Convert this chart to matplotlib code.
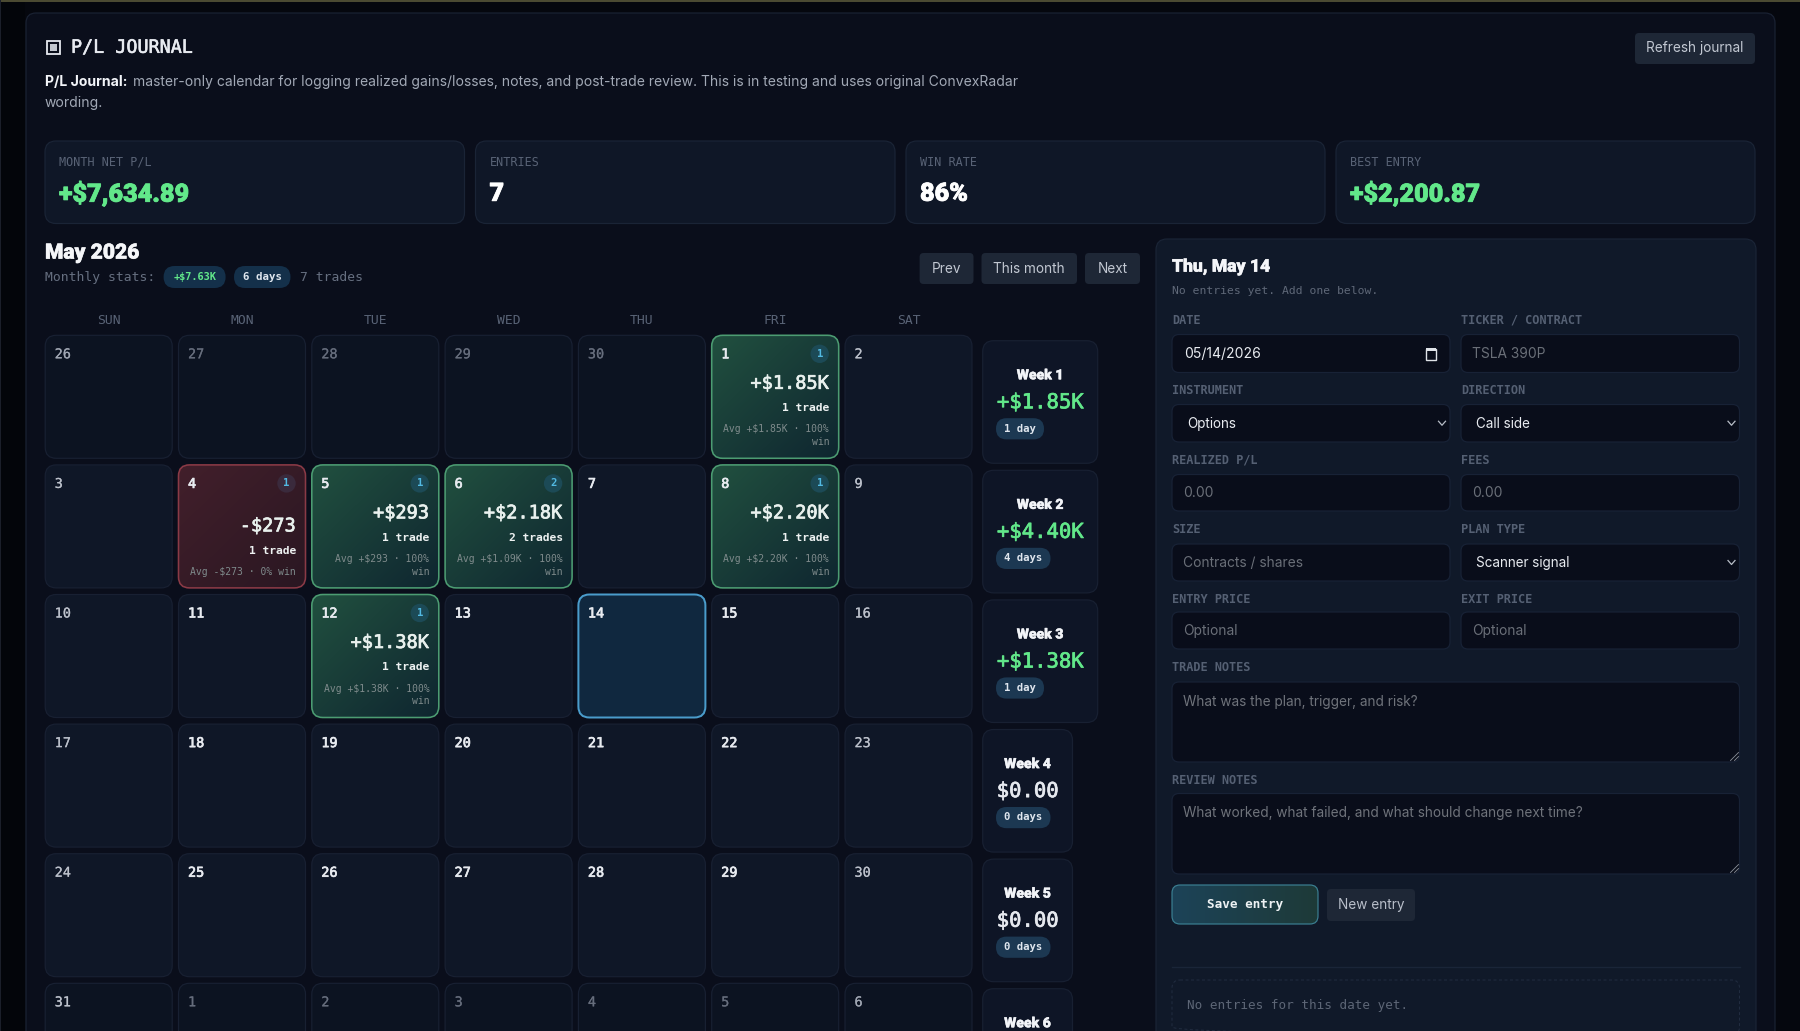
import numpy as np
import matplotlib
matplotlib.use("Agg")
import matplotlib.pyplot as plt
import matplotlib.patheffects as pe
from matplotlib.patches import FancyBboxPatch, Rectangle, Circle
from matplotlib.colors import to_rgb

# ---------- data ----------
WEEKDAYS = ["SUN", "MON", "TUE", "WED", "THU", "FRI", "SAT"]
WEEKS = [
    [26, 27, 28, 29, 30, 1, 2],
    [3, 4, 5, 6, 7, 8, 9],
    [10, 11, 12, 13, 14, 15, 16],
    [17, 18, 19, 20, 21, 22, 23],
    [24, 25, 26, 27, 28, 29, 30],
    [31, 1, 2, 3, 4, 5, 6],
]
IN_MONTH = [
    [0, 0, 0, 0, 0, 1, 1],
    [1] * 7, [1] * 7, [1] * 7, [1] * 7,
    [1, 0, 0, 0, 0, 0, 0],
]
TRADE_DAYS = [1, 4, 5, 6, 8, 12]
DAY_PNL = ["+$1.85K", "-$273", "+$293", "+$2.18K", "+$2.20K", "+$1.38K"]
DAY_TRADES = ["1 trade", "1 trade", "1 trade", "2 trades", "1 trade", "1 trade"]
DAY_COUNTS = ["1", "1", "1", "2", "1", "1"]
DAY_AVG = ["Avg +$1.85K · 100%\nwin", "Avg -$273 · 0% win", "Avg +$293 · 100%\nwin",
           "Avg +$1.09K · 100%\nwin", "Avg +$2.20K · 100%\nwin", "Avg +$1.38K · 100%\nwin"]
SELECTED_DAY = 14
WEEK_NAMES = ["Week 1", "Week 2", "Week 3", "Week 4", "Week 5", "Week 6"]
WEEK_PNL = ["+$1.85K", "+$4.40K", "+$1.38K", "$0.00", "$0.00", "$0.00"]
WEEK_DAYS = ["1 day", "4 days", "1 day", "0 days", "0 days", "0 days"]
STAT_LABELS = ["MONTH NET P/L", "ENTRIES", "WIN RATE", "BEST ENTRY"]
STAT_VALUES = ["+$7,634.89", "7", "86%", "+$2,200.87"]
FIELD_LABELS = [["DATE", "TICKER / CONTRACT"], ["INSTRUMENT", "DIRECTION"], ["REALIZED P/L", "FEES"],
                ["SIZE", "PLAN TYPE"], ["ENTRY PRICE", "EXIT PRICE"]]
FIELD_VALUES = [["05/14/2026", "TSLA 390P"], ["Options", "Call side"], ["0.00", "0.00"],
                ["Contracts / shares", "Scanner signal"], ["Optional", "Optional"]]
FIELD_KIND = [["date", "ph"], ["sel", "sel"], ["ph", "ph"], ["ph", "sel"], ["ph", "ph"]]

# ---------- canvas ----------
MONO = "DejaVu Sans Mono"
SANS = "Inter"
HEAD = "Roboto"
fig = plt.figure(figsize=(18, 10.31), dpi=100, facecolor="#05070e")
ax = fig.add_axes([0, 0, 1, 1])
ax.set_axis_off()
W, H = 1800, 1031
ax.set_xlim(0, W)
ax.set_ylim(H, 0)


def px(v):
    return v * 0.72


def box(x0, y0, x1, y1, r=10, fc="none", ec="none", lw=1.0, ls="-", z=2):
    p = FancyBboxPatch((x0, y0), x1 - x0, y1 - y0, boxstyle=f"round,pad=0,rounding_size={r}",
                       fc=fc, ec=ec, lw=lw * 0.72, ls=ls, zorder=z)
    ax.add_patch(p)
    return p


def grad(x0, y0, x1, y1, r, c0, c1, ec, lw=1.5, z=2, horizontal=False):
    p = box(x0, y0, x1, y1, r, fc="none", ec=ec, lw=lw, z=z + 0.1)
    clip = box(x0, y0, x1, y1, r, fc="none", ec="none", z=z)
    n = 64
    u, v = np.meshgrid(np.linspace(0, 1, n), np.linspace(0, 1, n))
    t = u if horizontal else (u + v) / 2
    a, b = np.array(to_rgb(c0)), np.array(to_rgb(c1))
    img = a[None, None, :] * (1 - t[..., None]) + b[None, None, :] * t[..., None]
    im = ax.imshow(img, extent=(x0, x1, y1, y0), origin="upper", aspect="auto", zorder=z,
                   interpolation="bilinear")
    im.set_clip_path(clip)
    return p


def txt(x, y, s, size, color, family=SANS, weight="normal", ha="left", va="center", z=5, stroke=0, **kw):
    t = ax.text(x, y + 0.8, s, fontsize=px(size), color=color, family=family, weight=weight,
                ha=ha, va=va, zorder=z, **kw)
    if stroke:
        t.set_path_effects([pe.withStroke(linewidth=stroke, foreground=color)])
    return t


# page chrome
ax.add_patch(Rectangle((0, 0), W, 2.2, fc="#4b4a32", ec="none", zorder=1))
ax.add_patch(Rectangle((0, 0), 1.4, H, fc="#1b1f2a", ec="none", zorder=1))
ax.add_patch(Rectangle((1.4, 2.2), 24, H, fc="#03050a", ec="none", zorder=0.5))
box(26, 13, 1775, H + 40, r=10, fc="#0a0e1b", ec="#1a2233", lw=1.2, z=1)

# header
ax.add_patch(Rectangle((47, 41), 12.5, 13, fc="none", ec="#e6e9ef", lw=1.3, zorder=4))
ax.add_patch(Rectangle((50, 44), 6.5, 7, fc="#c4c8d0", ec="none", zorder=4))
txt(71, 47, "P/L JOURNAL", 18.4, "#e8ebf1", MONO, "normal", stroke=0.4)
t0 = txt(45, 81, "P/L Journal:", 14.0, "#f2f4f8", SANS, "bold")
fig.canvas.draw()
bb = t0.get_window_extent()
txt(bb.x1 + 5.5, 81, "master-only calendar for logging realized gains/losses, notes, and post-trade review. "
    "This is in testing and uses original ConvexRadar", 13.95, "#a2a9b6")
txt(45, 102.5, "wording.", 13.95, "#a2a9b6")
box(1635, 33, 1755, 64, r=4, fc="#1e2736")
txt(1695, 47.5, "Refresh journal", 13.6, "#c2c8d2", ha="center")

# stat cards
STAT_X = [(45, 464.5), (475.5, 895), (906, 1325), (1336, 1755)]
for (x0, x1), lab, val in zip(STAT_X, STAT_LABELS, STAT_VALUES):
    box(x0, 141, x1, 223.5, r=11, fc="#0f1727", ec="#1a2436", lw=1.2)
    txt(x0 + 14, 161.5, lab, 11.8, "#596376", MONO)
    col = "#62e88a" if val.startswith("+") else "#ffffff"
    txt(x0 + 14, 193, val, 25.2, col, HEAD, "black", stroke=0.6)

# month header
txt(45, 252.3, "May 2026", 21, "#f5f6f9", HEAD, "black", stroke=0.4)
txt(45, 277, "Monthly stats:", 13, "#666f80", MONO)
box(163.6, 266, 225.6, 288, r=11, fc="#14304a")
txt(194.6, 276.5, "+$7.63K", 10.2, "#62e88a", MONO, "bold", ha="center")
box(234, 266, 290.5, 288, r=11, fc="#14304a")
txt(262.2, 276.5, "6 days", 10.8, "#dfe6ee", MONO, "bold", ha="center")
txt(299.6, 277, "7 trades", 13, "#666f80", MONO)
for (x0, x1), lab in zip([(919.6, 973.5), (981.5, 1077), (1085, 1140)], ["Prev", "This month", "Next"]):
    box(x0, 253, x1, 284, r=4, fc="#1e2736")
    txt((x0 + x1) / 2, 267.8, lab, 13.6, "#c2c8d2", ha="center")

# calendar
CX0, CPX, CW = 45.2, 133.3, 127.0
CY0, CPY, CH = 335.3, 129.6, 123.0
for i, d in enumerate(WEEKDAYS):
    txt(CX0 + i * CPX + CW / 2, 319.2, d, 13, "#596376", MONO, ha="center")

for r, (row, flags) in enumerate(zip(WEEKS, IN_MONTH)):
    for c, (day, inm) in enumerate(zip(row, flags)):
        x0 = CX0 + c * CPX
        y0 = CY0 + r * CPY
        x1, y1 = x0 + CW, y0 + CH
        has = inm and day in TRADE_DAYS
        weekend = c in (0, 6)
        if has:
            k = TRADE_DAYS.index(day)
            neg = DAY_PNL[k].startswith("-")
            if neg:
                grad(x0, y0, x1, y1, 11, "#421f2b", "#2a1722", "#8a3a46", 1.6)
            else:
                grad(x0, y0, x1, y1, 11, "#21503f", "#0f2630", "#4c9c72", 1.6)
        elif inm and day == SELECTED_DAY:
            box(x0, y0, x1, y1, 11, fc="#10283f", ec="#4a9ccb", lw=2.0)
        else:
            fill = "#0f1727" if (inm and r < 5) else "#0c1321"
            box(x0, y0, x1, y1, 11, fc=fill, ec="#182032", lw=1.2)
        if inm:
            col = "#bcc1cb" if weekend else "#e8ebf0"
        else:
            col = "#a0a6b2" if weekend else "#666d7c"
        txt(x0 + 9.5, y0 + 18.2, str(day), 13.5, col, MONO, "normal",
            stroke=0.5 if (inm and not weekend) else 0.15)
        if has:
            ring = "#3a2a3c" if neg else "#1c4a56"
            ax.add_patch(Circle((x1 - 19, y0 + 18.5), 9.2, fc=ring, ec="none", zorder=4))
            txt(x1 - 19, y0 + 17.8, DAY_COUNTS[k], 10.5, "#52b9e2", MONO, "bold", ha="center")
            wrap = "\n" in DAY_AVG[k]
            off = 0 if wrap else 13
            txt(x1 - 9.5, y0 + 47.2 + off, DAY_PNL[k], 18.6, "#e9f1ee", MONO, "normal", ha="right", stroke=0.5)
            txt(x1 - 9.5, y0 + 72 + off, DAY_TRADES[k], 11.3, "#eef2f2", MONO, "bold", ha="right")
            parts = DAY_AVG[k].split("\n")
            for j, part in enumerate(parts):
                txt(x1 - 9.5, y0 + 93.2 + off + j * 12.8, part, 9.8, "#7f8b8c", MONO, ha="right")

# week cards
for w, (name, pnl, days) in enumerate(zip(WEEK_NAMES, WEEK_PNL, WEEK_DAYS)):
    y0 = 340.7 + w * CPY
    wide = pnl.startswith("+")
    x0, x1 = 982.7, 1097.7 if wide else 1072.5
    box(x0, y0, x1, y0 + 122.6, 11, fc="#0e1526", ec="#182032", lw=1.2)
    cx = (x0 + x1) / 2
    txt(cx, y0 + 33.8, name, 14, "#f2f4f8", HEAD, "black", ha="center", stroke=0.3)
    if y0 + 60 < H:  # lower part of the last week lies below the visible page
        txt(cx, y0 + 60.8, pnl, 20.6, "#62e88a" if wide else "#e6e9ef", MONO, "normal", ha="center", stroke=0.5)
        pw = 48 if days == "1 day" else 54.5
        box(996, y0 + 77.5, 996 + pw, y0 + 98.7, 10.5, fc="#1c3852")
        txt(996 + pw / 2, y0 + 87.2, days, 10.6, "#dfe6ee", MONO, "bold", ha="center")

# right panel
box(1156, 239, 1756, H + 40, r=11, fc="#101929", ec="#1a2436", lw=1.2)
txt(1172, 266, "Thu, May 14", 17.5, "#f5f6f9", HEAD, "black", stroke=0.35)
txt(1172, 290.2, "No entries yet. Add one below.", 11.4, "#5f6878", MONO)

FX = [(1172, 1450), (1461, 1739.5)]
ROWS = [(319.5, 334.5, 372.5), (390, 404.5, 442), (459.5, 474.5, 511), (528.5, 544, 581), (598.5, 612, 649)]
FIELD_BG = "#090d1a"
FIELD_EC = "#182236"
for (ly, y0, y1), labs, vals, kinds in zip(ROWS, FIELD_LABELS, FIELD_VALUES, FIELD_KIND):
    for (x0, x1), lab, val, kind in zip(FX, labs, vals, kinds):
        txt(x0, ly, lab, 11.9, "#556073", MONO, "bold")
        box(x0, y0, x1, y1, 7, fc=FIELD_BG, ec=FIELD_EC, lw=1.2)
        ym = (y0 + y1) / 2
        if kind == "date":
            txt(x0 + 12, ym - 0.5, val, 14, "#e8ebf0")
            ax.add_patch(Rectangle((x1 - 24.5, ym - 5), 10, 11, fc="none", ec="#dfe3e8", lw=1.0, zorder=4))
            ax.add_patch(Rectangle((x1 - 24.5, ym - 6), 10, 3, fc="#dfe3e8", ec="none", zorder=4))
        elif kind == "sel":
            txt(x0 + 15, ym - 0.5, val, 13.5, "#e8ebf0")
            ax.plot([x1 - 11.5, x1 - 8, x1 - 4.5], [ym - 2, ym + 2, ym - 2], color="#b8bec8", lw=0.9, zorder=4)
        else:
            txt(x0 + 11, ym - 0.5, val, 13.8, "#6a6f78")

TEXTAREAS = [("TRADE NOTES", "What was the plan, trigger, and risk?", 666.5, 682, 762),
             ("REVIEW NOTES", "What worked, what failed, and what should change next time?", 779.5, 793.5, 874)]
for lab, ph, ly, y0, y1 in TEXTAREAS:
    txt(1172, ly, lab, 11.9, "#556073", MONO, "bold")
    box(1172, y0, 1739.5, y1, 7, fc=FIELD_BG, ec=FIELD_EC, lw=1.2)
    txt(1183, y0 + 19, ph, 13.6, "#6f737b")
    for d in (8, 4):
        ax.plot([1738.5 - d, 1738.5], [y1 - 1.5, y1 - d - 1.5], color="#8b909a", lw=0.6, zorder=4)

grad(1172, 885, 1318, 924, 8, "#1c4358", "#1e3a38", "#3b7f92", 1.2, horizontal=True)
txt(1245, 904, "Save entry", 12.6, "#eef2f4", MONO, "bold", ha="center")
box(1327, 889, 1415, 921, 4, fc="#1e2736")
txt(1371, 903.8, "New entry", 13.6, "#b9bfca", ha="center")
ax.plot([1172, 1739.5], [967, 967], color="#1a2538", lw=1.0, zorder=3)
box(1172, 980, 1739.5, H + 4, 8, fc="none", ec="#212c40", lw=1.0, ls=(0, (3, 2.5)))
txt(1187, 1004.2, "No entries for this date yet.", 12.6, "#5d6676", MONO)

ax.set_xlim(0, W)
ax.set_ylim(H, 0)
fig.savefig("out.png", dpi=100, facecolor=fig.get_facecolor())
